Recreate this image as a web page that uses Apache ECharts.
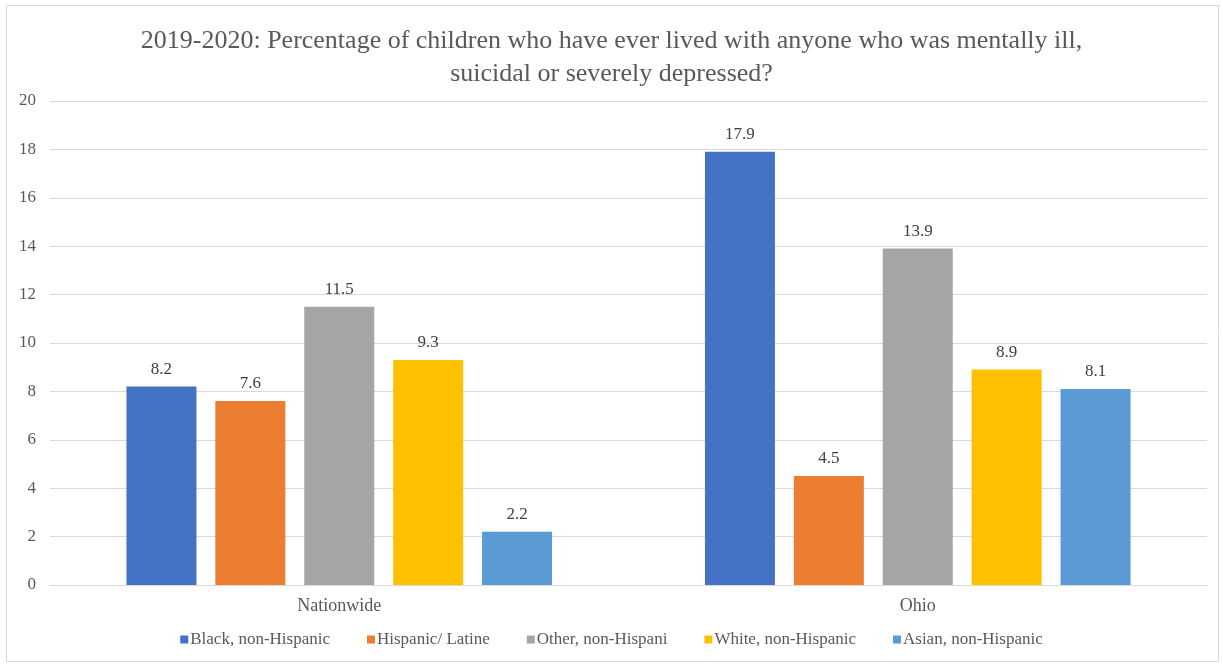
<!DOCTYPE html>
<html>
<head>
<meta charset="utf-8">
<script src="https://cdn.jsdelivr.net/npm/echarts@6/dist/echarts.min.js"></script>
<style>
html,body{margin:0;padding:0;background:#fff;}
#chart{width:1223px;height:665px;}
</style>
</head>
<body>
<div id="chart"></div>
<script>
const titleText = '2019-2020: Percentage of children who have ever lived with anyone who was mentally ill,\nsuicidal or severely depressed?';
const categories = ['Nationwide', 'Ohio'];
const seriesNames = ['Black, non-Hispanic', 'Hispanic/ Latine', 'Other, non-Hispani', 'White, non-Hispanic', 'Asian, non-Hispanic'];
const black = [8.2, 17.9];
const hispanic = [7.6, 4.5];
const other = [11.5, 13.9];
const white = [9.3, 8.9];
const asian = [2.2, 8.1];
const colors = ['#4472c4', '#ed7d31', '#a5a5a5', '#ffc000', '#5b9bd5'];

const font = '"Liberation Serif", "Times New Roman", serif';
const values = [black, hispanic, other, white, asian];

const chart = echarts.init(document.getElementById('chart'));
chart.setOption({
  backgroundColor: '#fff',
  animation: false,
  title: {
    text: titleText,
    left: 'center',
    top: 20,
    textStyle: { fontFamily: font, fontSize: 26, fontWeight: 'normal', color: '#595959', lineHeight: 33 }
  },
  graphic: [{
    type: 'rect',
    shape: { x: 6.5, y: 5.5, width: 1212, height: 656 },
    style: { fill: 'none', stroke: '#d9d9d9', lineWidth: 1 },
    silent: true
  }],
  legend: {
    bottom: 12,
    left: 'center',
    itemWidth: 8,
    itemHeight: 8,
    itemGap: 37,
    icon: 'rect',
    textStyle: { fontFamily: font, fontSize: 17, color: '#595959', padding: [0, 0, 0, -3] },
    data: seriesNames
  },
  grid: { left: 50, right: 16, top: 101, bottom: 80, containLabel: false },
  xAxis: {
    type: 'category',
    data: categories,
    axisLine: { lineStyle: { color: '#d9d9d9' } },
    axisTick: { show: false },
    axisLabel: { fontFamily: font, fontSize: 18, color: '#595959', margin: 12 }
  },
  yAxis: {
    type: 'value',
    min: 0,
    max: 20,
    interval: 2,
    axisLine: { show: false },
    axisTick: { show: false },
    splitLine: { lineStyle: { color: '#d9d9d9' } },
    axisLabel: { fontFamily: font, fontSize: 17, color: '#595959', margin: 14 }
  },
  series: seriesNames.map((name, i) => ({
    name: name,
    type: 'bar',
    data: values[i],
    barWidth: 70,
    barGap: '27%',
    itemStyle: { color: colors[i] },
    label: {
      show: true,
      position: 'top',
      distance: 9,
      fontFamily: font,
      fontSize: 17,
      color: '#404040',
      formatter: p => p.value.toFixed(1)
    }
  }))
});
</script>
</body>
</html>
